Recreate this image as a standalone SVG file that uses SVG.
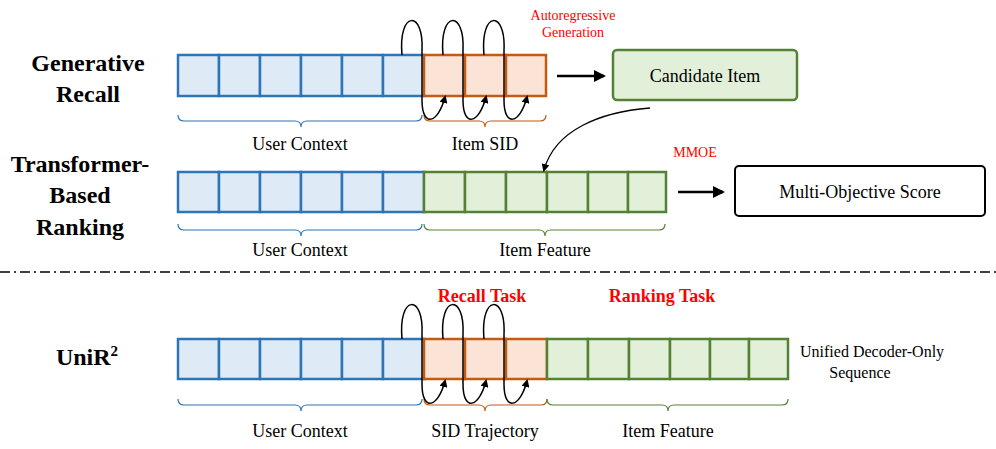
<svg xmlns="http://www.w3.org/2000/svg" width="996" height="449" viewBox="0 0 996 449" font-family="'Liberation Serif','Times New Roman','DejaVu Serif',serif">
<style>
.b{fill:#deebf7;stroke:#2e75b6;stroke-width:2.5}
.o{fill:#fbe3d6;stroke:#c55a11;stroke-width:2.5}
.g{fill:#e2f0d9;stroke:#548235;stroke-width:2.5}
.t{font-size:18px;text-anchor:middle}
.h{font-size:24px;font-weight:bold;text-anchor:middle}
.r{fill:#ff0000}
.loop{fill:none;stroke:#000;stroke-width:1.5}
.br{fill:none;stroke-width:1.2}
</style>
<defs>
<marker id="ah" markerWidth="8" markerHeight="8" refX="6" refY="4" orient="auto" markerUnits="userSpaceOnUse" viewBox="0 0 8 8"><path d="M0,0 L8,4 L0,8 z" fill="#000"/></marker>
<marker id="ah2" markerWidth="12" markerHeight="12" refX="10" refY="6" orient="auto" markerUnits="userSpaceOnUse" viewBox="0 0 12 12"><path d="M0,0 L12,6 L0,12 z" fill="#000"/></marker>
</defs>
<g id="labels">
<text class="h" x="88" y="71">Generative</text>
<text class="h" x="88" y="102">Recall</text>
<text class="h" x="80" y="172">Transformer-</text>
<text class="h" x="80" y="203">Based</text>
<text class="h" x="80" y="235">Ranking</text>
<text class="h" x="87" y="365">UniR<tspan font-size="15" dy="-9">2</tspan></text>
</g>
<g id="row1">
<rect class="b" x="178" y="55" width="41" height="41"/><rect class="b" x="219" y="55" width="41" height="41"/><rect class="b" x="260" y="55" width="41" height="41"/><rect class="b" x="301" y="55" width="41" height="41"/><rect class="b" x="342" y="55" width="41" height="41"/><rect class="b" x="383" y="55" width="41" height="41"/>
<rect class="o" x="424" y="55" width="41" height="41"/><rect class="o" x="465" y="55" width="41" height="41"/><rect class="o" x="506" y="55" width="40" height="41"/>
<path class="br" stroke="#2e75b6" d="M178,115 Q178,121 184,121 L295,121 Q301,121 301,127 Q301,121 307,121 L416,121 Q422,121 422,115"/>
<path class="br" stroke="#c55a11" d="M424,115 Q424,121 430,121 L479,121 Q485,121 485,127 Q485,121 491,121 L540,121 Q546,121 546,115"/>
<text class="t" x="300" y="150">User Context</text>
<text class="t" x="485" y="150">Item SID</text>
<text x="573" y="20" font-size="14" text-anchor="middle" class="r">Autoregressive</text>
<text x="573" y="37" font-size="14" text-anchor="middle" class="r">Generation</text>
</g>
<g id="candidate">
<rect x="613" y="50" width="184" height="50" rx="4" fill="#e2f0d9" stroke="#548235" stroke-width="2.5"/>
<text class="t" x="705" y="82" font-size="20">Candidate Item</text>
</g>
<g id="row2">
<rect class="b" x="178" y="172" width="41" height="40"/><rect class="b" x="219" y="172" width="41" height="40"/><rect class="b" x="260" y="172" width="41" height="40"/><rect class="b" x="301" y="172" width="41" height="40"/><rect class="b" x="342" y="172" width="41" height="40"/><rect class="b" x="383" y="172" width="41" height="40"/>
<rect class="g" x="424" y="172" width="41" height="40"/><rect class="g" x="465" y="172" width="41" height="40"/><rect class="g" x="506" y="172" width="41" height="40"/><rect class="g" x="547" y="172" width="41" height="40"/><rect class="g" x="588" y="172" width="40" height="40"/><rect class="g" x="628" y="172" width="38" height="40"/>
<path class="br" stroke="#2e75b6" d="M178,224 Q178,230 184,230 L295,230 Q301,230 301,236 Q301,230 307,230 L416,230 Q422,230 422,224"/>
<path class="br" stroke="#548235" d="M424,224 Q424,230 430,230 L539,230 Q545,230 545,236 Q545,230 551,230 L659,230 Q665,230 665,224"/>
<text class="t" x="300" y="256">User Context</text>
<text class="t" x="545" y="256">Item Feature</text>
<text x="695" y="157" font-size="14" text-anchor="middle" class="r">MMOE</text>
</g>
<g id="score">
<rect x="735" y="166" width="250" height="50" rx="4" fill="#fff" stroke="#000" stroke-width="2"/>
<text class="t" x="860" y="198" font-size="21">Multi-Objective Score</text>
</g>
<g id="row3">
<rect class="b" x="178" y="339" width="41" height="40"/><rect class="b" x="219" y="339" width="41" height="40"/><rect class="b" x="260" y="339" width="41" height="40"/><rect class="b" x="301" y="339" width="41" height="40"/><rect class="b" x="342" y="339" width="41" height="40"/><rect class="b" x="383" y="339" width="41" height="40"/>
<rect class="o" x="424" y="339" width="41" height="40"/><rect class="o" x="465" y="339" width="41" height="40"/><rect class="o" x="506" y="339" width="41" height="40"/>
<rect class="g" x="547" y="339" width="41" height="40"/><rect class="g" x="588" y="339" width="41" height="40"/><rect class="g" x="629" y="339" width="41" height="40"/><rect class="g" x="670" y="339" width="40" height="40"/><rect class="g" x="710" y="339" width="39" height="40"/><rect class="g" x="749" y="339" width="39" height="40"/>
<path class="br" stroke="#2e75b6" d="M178,399 Q178,405 184,405 L295,405 Q301,405 301,411 Q301,405 307,405 L416,405 Q422,405 422,399"/>
<path class="br" stroke="#c55a11" d="M424,399 Q424,405 430,405 L479,405 Q485,405 485,411 Q485,405 491,405 L541,405 Q547,405 547,399"/>
<path class="br" stroke="#548235" d="M547,399 Q547,405 553,405 L662,405 Q668,405 668,411 Q668,405 674,405 L782,405 Q788,405 788,399"/>
<text class="t" x="300" y="437">User Context</text>
<text class="t" x="485" y="437">SID Trajectory</text>
<text class="t" x="668" y="437">Item Feature</text>
<text x="482" y="302" font-size="18" font-weight="bold" text-anchor="middle" class="r">Recall Task</text>
<text x="662" y="302" font-size="18" font-weight="bold" text-anchor="middle" class="r">Ranking Task</text>
<text x="800" y="357" font-size="16">Unified Decoder-Only</text>
<text x="860" y="378" font-size="16" text-anchor="middle">Sequence</text>
</g>
<g id="connectors">
<path class="loop" marker-end="url(#ah)" d="M402,55 C398,10 424,10 422,50 L422,100 C422,128 438,124 445,97"/>
<path class="loop" marker-end="url(#ah)" d="M443,55 C439,10 465,10 463,50 L463,100 C463,128 479,124 486,97"/>
<path class="loop" marker-end="url(#ah)" d="M484,55 C480,10 506,10 504,50 L504,100 C504,128 520,124 527,97"/>
<path class="loop" marker-end="url(#ah)" d="M402,339 C398,294 424,294 422,334 L422,384 C422,412 438,408 445,381"/>
<path class="loop" marker-end="url(#ah)" d="M443,339 C439,294 465,294 463,334 L463,384 C463,412 479,408 486,381"/>
<path class="loop" marker-end="url(#ah)" d="M484,339 C480,294 506,294 504,334 L504,384 C504,412 520,408 527,381"/>
<line x1="557" y1="76" x2="604" y2="76" stroke="#000" stroke-width="2.5" marker-end="url(#ah2)"/>
<line x1="678" y1="192" x2="723" y2="192" stroke="#000" stroke-width="2.5" marker-end="url(#ah2)"/>
<path d="M650,108 C600,112 555,130 544,170" fill="none" stroke="#000" stroke-width="1.3" marker-end="url(#ah)"/>
<line x1="0" y1="272" x2="996" y2="272" stroke="#000" stroke-width="1.5" stroke-dasharray="10,4,2,4"/>
</g>
</svg>
